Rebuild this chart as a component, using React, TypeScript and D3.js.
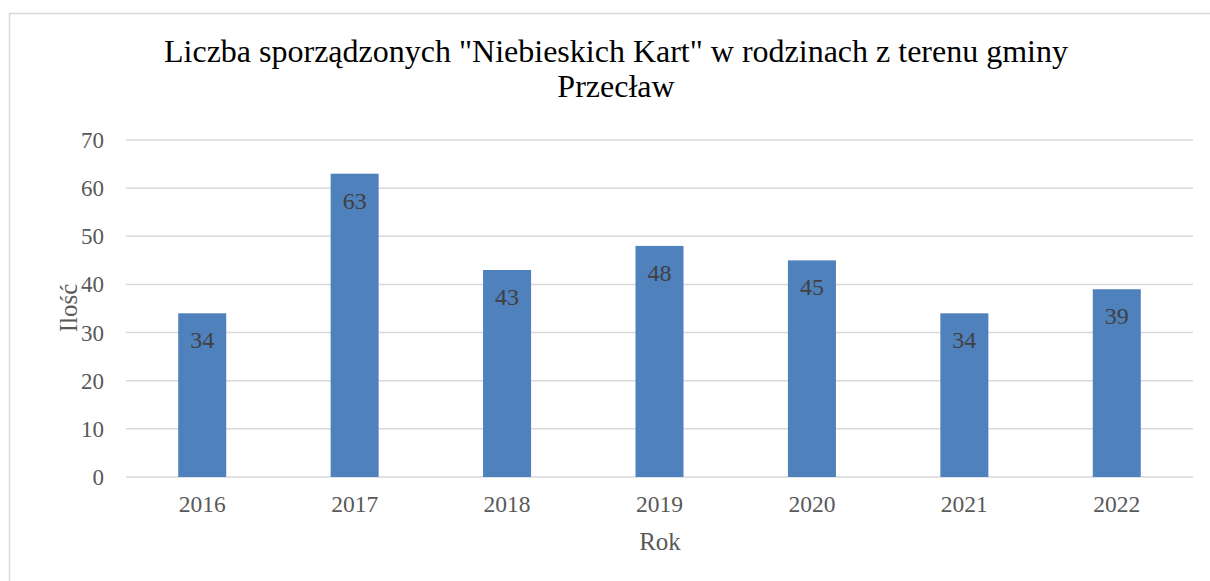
import React from "react";
import * as d3 from "d3";

const categories = ["2016", "2017", "2018", "2019", "2020", "2021", "2022"];
const values = [34, 63, 43, 48, 45, 34, 39];
const yTicks = [0, 10, 20, 30, 40, 50, 60, 70];
const titleLines = ['Liczba sporządzonych "Niebieskich Kart" w rodzinach z terenu gminy', "Przecław"];
const xTitle = "Rok";
const yTitle = "Ilość";

export default function App() {
  const W = 1210, H = 581;
  const left = 126, right = 1193, top = 140, bottom = 477;
  const x = d3.scaleBand().domain(categories).range([left, right]).paddingInner(0.685).paddingOuter(0.3425);
  const y = d3.scaleLinear().domain([0, 70]).range([bottom, top]);
  const font = "'Liberation Serif', 'Times New Roman', serif";
  return (
    <svg width={W} height={H} style={{ position: "absolute", left: 0, top: 0, background: "#fff" }} fontFamily={font}>
      <rect x={9.5} y={13.5} width={1220} height={600} fill="#fff" stroke="#d9d9d9" strokeWidth={1.5} />
      {titleLines.map((t, i) => (
        <text key={i} x={616} y={62 + i * 35} textAnchor="middle" fontSize={32} fill="#000">{t}</text>
      ))}
      {yTicks.map((t) => (
        <g key={t}>
          <line x1={left} x2={right} y1={y(t)} y2={y(t)} stroke="#d9d9d9" strokeWidth={1.5} />
          <text x={104} y={y(t) + 8} textAnchor="end" fontSize={23} fill="#595959">{t}</text>
        </g>
      ))}
      {categories.map((c, i) => (
        <g key={c}>
          <rect x={x(c)} y={y(values[i])} width={x.bandwidth()} height={y(0) - y(values[i])} fill="#4f81bd" />
          <text x={x(c)! + x.bandwidth() / 2} y={y(values[i]) + 35} textAnchor="middle" fontSize={24} fill="#404040">{values[i]}</text>
          <text x={x(c)! + x.bandwidth() / 2} y={512} textAnchor="middle" fontSize={23.5} fill="#595959">{c}</text>
        </g>
      ))}
      <text x={660} y={550} textAnchor="middle" fontSize={25} fill="#595959">{xTitle}</text>
      <text transform={`translate(77, 308) rotate(-90)`} textAnchor="middle" fontSize={25} fill="#595959">{yTitle}</text>
    </svg>
  );
}
